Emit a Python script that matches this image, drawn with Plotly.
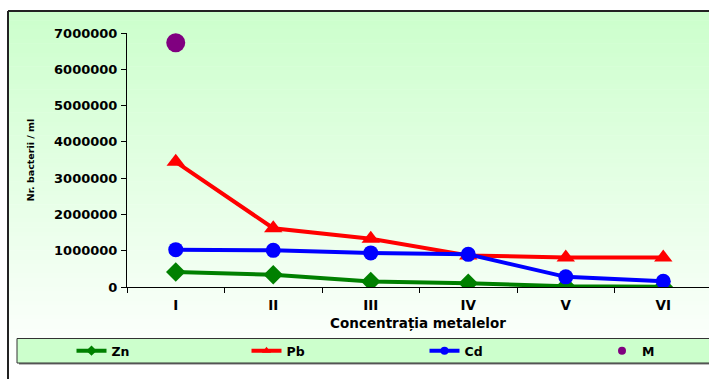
import plotly.graph_objects as go

categories = ["I", "II", "III", "IV", "V", "VI"]
zn = [410000, 340000, 150000, 100000, 20000, 10000]
pb = [3450000, 1620000, 1330000, 870000, 810000, 810000]
cd = [1030000, 1010000, 940000, 900000, 280000, 160000]
m_cat = ["I"]
m_val = [6730000]
y_ticks = [0, 1000000, 2000000, 3000000, 4000000, 5000000, 6000000, 7000000]

W, H = 709, 379
FONT = "DejaVu Sans"
XR = 1.0

fig = go.Figure()

def px_y(y):
    return 1 - y / H

# gradient background made of bands
shapes = []
n = 80
top, bot = 11, 379
for i in range(n):
    y0 = top + (bot - top) * i / n
    y1 = min(bot, top + (bot - top) * (i + 1) / n + 0.6)
    f = min(1.0, (i + 0.5) / n / 0.95)
    c = (int(204 + 51 * f), 255, int(204 + 51 * f))
    shapes.append(dict(type="rect", xref="paper", yref="paper", layer="below",
                       x0=8 / W, x1=XR, y0=px_y(y1), y1=px_y(y0),
                       fillcolor="rgb(%d,%d,%d)" % c, line=dict(width=0)))
# outer border (top and left only; right/bottom are off-canvas)
shapes.append(dict(type="line", xref="paper", yref="paper", layer="below",
                   x0=8 / W, x1=XR, y0=px_y(11), y1=px_y(11),
                   line=dict(color="#222", width=2)))
shapes.append(dict(type="line", xref="paper", yref="paper", layer="below",
                   x0=8 / W, x1=8 / W, y0=px_y(11), y1=0,
                   line=dict(color="#222", width=2)))
# legend box shadow + box
shapes.append(dict(type="rect", xref="paper", yref="paper", layer="below",
                   x0=19 / W, x1=XR, y0=px_y(364.5), y1=px_y(340),
                   fillcolor="#777", line=dict(width=0)))
shapes.append(dict(type="rect", xref="paper", yref="paper", layer="below",
                   x0=17 / W, x1=XR, y0=px_y(363), y1=px_y(338.5),
                   fillcolor="#ccffcc", line=dict(width=0)))
for yy in (338.5, 363):
    shapes.append(dict(type="line", xref="paper", yref="paper", layer="below",
                       x0=17 / W, x1=XR, y0=px_y(yy), y1=px_y(yy),
                       line=dict(color="#333", width=1)))
shapes.append(dict(type="line", xref="paper", yref="paper", layer="below",
                   x0=17 / W, x1=17 / W, y0=px_y(338.5), y1=px_y(363),
                   line=dict(color="#333", width=1)))

fig.add_trace(go.Scatter(x=categories, y=zn, mode="lines+markers", name="Zn",
                         line=dict(color="#008000", width=4),
                         marker=dict(symbol="diamond", size=15, color="#008000"),
                         showlegend=False))
fig.add_trace(go.Scatter(x=categories, y=pb, mode="lines+markers", name="Pb",
                         line=dict(color="#ff0000", width=4),
                         marker=dict(symbol="triangle-up", size=16, color="#ff0000"),
                         showlegend=False))
fig.add_trace(go.Scatter(x=categories, y=cd, mode="lines+markers", name="Cd",
                         line=dict(color="#0000ff", width=4),
                         marker=dict(symbol="circle", size=15, color="#0000ff"),
                         showlegend=False))
fig.add_trace(go.Scatter(x=m_cat, y=m_val, mode="markers", name="M",
                         marker=dict(symbol="circle", size=19, color="#800080"),
                         showlegend=False))

legend_items = [("Zn", "#008000", "diamond", "lines+markers", "legend", 93.5),
                ("Pb", "#ff0000", "triangle-up", "lines+markers", "legend2", 268.5),
                ("Cd", "#0000ff", "circle", "lines+markers", "legend3", 446.5),
                ("M", "#800080", "circle", "markers", "legend4", 624)]
legend_layouts = {}
for name, color, sym, mode, lg, cx in legend_items:
    fig.add_trace(go.Scatter(x=[None], y=[None], mode=mode, name=name, legend=lg,
                             line=dict(color=color, width=4),
                             marker=dict(symbol=sym, size=8, color=color)))
    legend_layouts[lg] = dict(
        orientation="h", x=(cx - 22) / W, xanchor="left", y=px_y(351), yanchor="middle",
        bgcolor="rgba(0,0,0,0)", borderwidth=0,
        font=dict(family=FONT, size=12.5, color="black", weight="bold"),
    )

fig.update_layout(
    width=W, height=H,
    margin=dict(l=0, r=0, t=0, b=0, autoexpand=False),
    paper_bgcolor="white",
    plot_bgcolor="rgba(0,0,0,0)",
    shapes=shapes,
    font=dict(family=FONT, color="black"),
    xaxis=dict(
        type="category",
        categoryorder="array", categoryarray=categories,
        domain=[127 / W, 1],
        range=[-0.5, 5.469],
        showline=True, linecolor="black", linewidth=1,
        ticks="outside", tickson="boundaries", ticklen=5, tickcolor="black",
        ticklabelstandoff=6,
        showgrid=False, zeroline=False, automargin=False,
        tickfont=dict(family=FONT, size=13.5, color="black", weight="bold"),
        title=dict(text="<b>Concentrația metalelor</b>",
                   font=dict(family=FONT, size=13.5, color="black"), standoff=6),
    ),
    yaxis=dict(
        domain=[px_y(287), px_y(33)],
        range=[0, 7000000],
        tickmode="array", tickvals=y_ticks,
        ticktext=[str(v) for v in y_ticks],
        showline=True, linecolor="black", linewidth=1,
        ticks="outside", ticklen=5, tickcolor="black",
        ticklabelstandoff=1,
        showgrid=False, zeroline=False, automargin=False,
        tickfont=dict(family=FONT, size=13, color="black", weight="bold"),
        title=dict(text="<b>Nr. bacterii / ml</b>",
                   font=dict(family=FONT, size=9.5, color="black"), standoff=17),
    ),
    **legend_layouts,
)

fig.write_html("out.html")
